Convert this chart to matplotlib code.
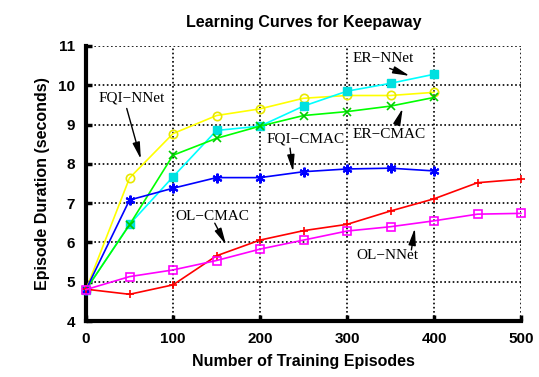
import matplotlib
matplotlib.use("Agg")
import matplotlib.pyplot as plt

# data
x_short = [0, 50, 100, 150, 200, 250, 300, 350, 400]
x_long = [0, 50, 100, 150, 200, 250, 300, 350, 400, 450, 500]

fqi_nnet = [4.8, 7.64, 8.77, 9.23, 9.40, 9.67, 9.74, 9.74, 9.82]
er_nnet = [4.8, 6.46, 7.67, 8.85, 8.96, 9.47, 9.85, 10.05, 10.28]
er_cmac = [4.8, 6.45, 8.22, 8.65, 8.96, 9.23, 9.33, 9.47, 9.69]
fqi_cmac = [4.8, 7.08, 7.38, 7.65, 7.65, 7.80, 7.87, 7.89, 7.82]
ol_cmac = [4.81, 4.68, 4.92, 5.66, 6.06, 6.30, 6.46, 6.80, 7.11, 7.52, 7.61]
ol_nnet = [4.8, 5.13, 5.30, 5.54, 5.83, 6.06, 6.29, 6.40, 6.55, 6.72, 6.74]

fig = plt.figure(figsize=(5.39, 3.77), dpi=100)
ax = fig.add_axes([0.1596, 0.1485, 0.807, 0.7295])

lw = 1.2
ax.plot(x_short, fqi_nnet, color='#ffff00', lw=lw, marker='o', ms=6, mfc='none', mec='#e8e800', mew=1.2, clip_on=False, zorder=5)
ax.plot(x_short, er_nnet, color='#00ffff', lw=lw, marker='s', ms=6, mfc='#00e0e0', mec='#00e0e0', clip_on=False, zorder=5)
ax.plot(x_short, er_cmac, color='#00ff00', lw=lw, marker='x', ms=6, mec='#00cc00', mew=1.2, clip_on=False, zorder=5)
ax.plot(x_short, fqi_cmac, color='#0000ff', lw=lw, marker=(6, 2, 0), ms=7, mec='#0000ff', mew=1.5, clip_on=False, zorder=5)
ax.plot(x_long, ol_cmac, color='#ff0000', lw=lw, marker='+', ms=6, mew=1.2, clip_on=False, zorder=5)
ax.plot(x_long, ol_nnet, color='#ff00ff', lw=lw, marker='s', ms=6, mfc='none', mec='#ff00ff', mew=1.2, clip_on=False, zorder=5)

ax.set_xlim(0, 500)
ax.set_ylim(4, 11)
ax.set_xticks([0, 100, 200, 300, 400, 500])
ax.set_yticks([4, 5, 6, 7, 8, 9, 10, 11])
ax.grid(True, color='black', linestyle=(0, (1, 1.5)), linewidth=1.2)
ax.set_axisbelow(True)

for s in ['top', 'right']:
    ax.spines[s].set_visible(False)
for s in ['left', 'bottom']:
    ax.spines[s].set_linewidth(3)

ax.tick_params(direction='in', length=4, width=2.5, labelsize=11, pad=8)
for lab in ax.get_xticklabels() + ax.get_yticklabels():
    lab.set_fontweight('bold')
    lab.set_family('Liberation Sans')

sans = dict(family='Liberation Sans', fontweight='bold', fontsize=11.5)
ax.set_title('Learning Curves for Keepaway', pad=14, **sans)
ax.set_xlabel('Number of Training Episodes', labelpad=6, **sans)
ax.set_ylabel('Episode Duration (seconds)', labelpad=6, **sans)

# label text position, arrow start, arrow tip
notes = [
    ('FQI\u2212NNet', (53, 9.68), (46.8, 9.41), (63, 8.12)),
    ('ER\u2212NNet', (341, 10.67), (349, 10.43), (372, 10.24)),
    ('ER\u2212CMAC', (348, 8.74), (357, 8.99), (364, 9.41)),
    ('FQI\u2212CMAC', (252, 8.63), (234.5, 8.40), (238, 7.80)),
    ('OL\u2212CMAC', (145, 6.67), (148, 6.49), (161, 5.94)),
    ('OL\u2212NNet', (346, 5.66), (374, 5.81), (378, 6.36)),
]
arrow = dict(arrowstyle='-|>,head_length=1.0,head_width=0.22', color='black', lw=1.0,
             shrinkA=0, shrinkB=0, mutation_scale=10)
for text, xyt, start, tip in notes:
    ax.text(xyt[0], xyt[1], text, family='Liberation Serif', fontsize=11,
            ha='center', va='center', zorder=6)
    ax.annotate('', xy=tip, xytext=start, arrowprops=arrow, zorder=6)

fig.savefig('out.png', dpi=100)
